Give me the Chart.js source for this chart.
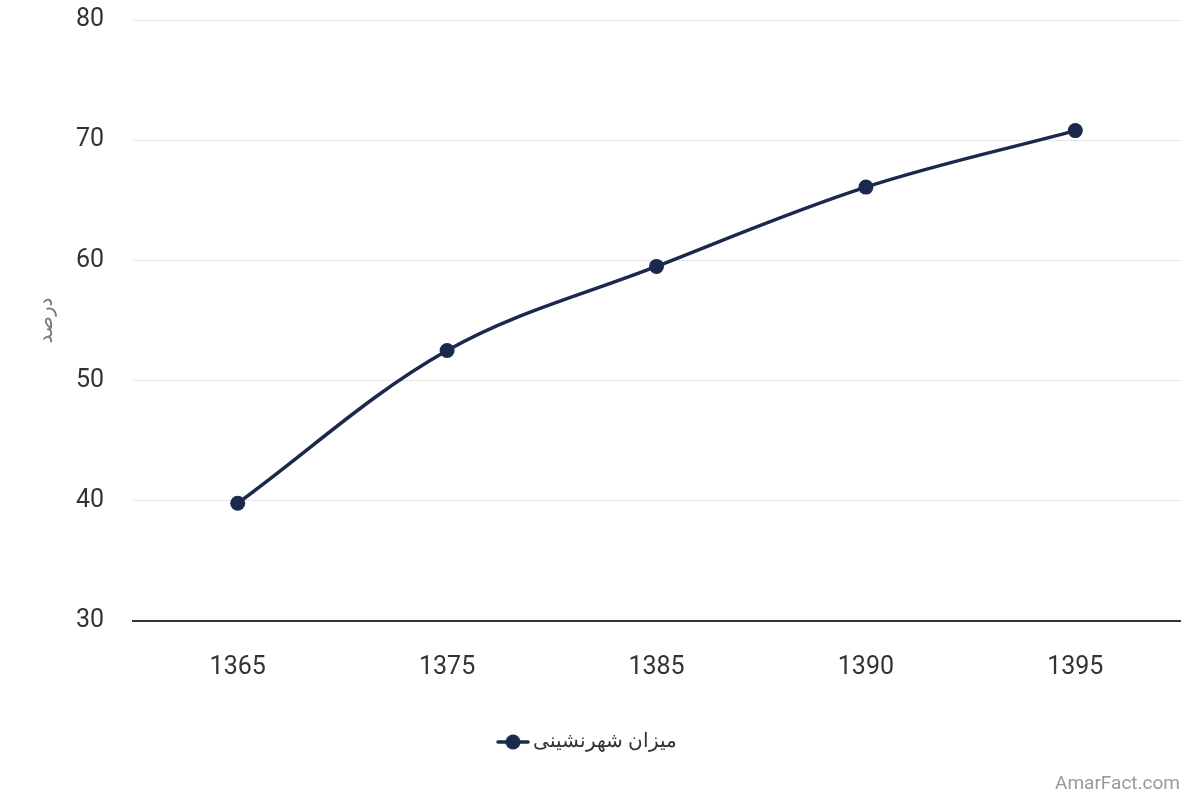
<!DOCTYPE html>
<html>
<head>
<meta charset="utf-8">
<script src="https://cdn.jsdelivr.net/npm/chart.js@4.4.1/dist/chart.umd.min.js"></script>
<style>
  html, body { margin: 0; padding: 0; background: #ffffff; }
  #wrap { position: relative; width: 1200px; height: 800px; }
  #credit { position: absolute; right: 20px; bottom: 6px; font-family: Roboto, sans-serif; font-size: 19px; color: #999999; }
</style>
</head>
<body>
<div id="wrap">
  <canvas id="c" width="1200" height="800"></canvas>
  <div id="credit">AmarFact.com</div>
</div>
<script>
const years = ['1365', '1375', '1385', '1390', '1395'];
const urbanRate = [39.8, 52.5, 59.5, 66.1, 70.8];
const seriesName = 'میزان شهرنشینی';
const yTitle = 'درصد';
const yMin = 30, yMax = 80, yStep = 10;

const navy = '#1b2a4c';

// legend symbol: line with a circle
function legendSymbol() {
  const cv = document.createElement('canvas');
  cv.width = 34; cv.height = 18;
  const g = cv.getContext('2d');
  g.strokeStyle = navy; g.lineWidth = 3.5; g.lineCap = 'round';
  g.beginPath(); g.moveTo(2, 9); g.lineTo(32, 9); g.stroke();
  g.fillStyle = navy;
  g.beginPath(); g.arc(17, 9, 7.5, 0, Math.PI * 2); g.fill();
  return cv;
}
const sym = legendSymbol();

new Chart(document.getElementById('c'), {
  type: 'line',
  data: {
    labels: years,
    datasets: [{
      label: seriesName,
      data: urbanRate,
      borderColor: navy,
      backgroundColor: navy,
      borderWidth: 3.5,
      pointRadius: 7.5,
      pointHoverRadius: 7.5,
      pointBackgroundColor: navy,
      pointBorderWidth: 0,
      tension: 0.35,
      fill: false
    }]
  },
  options: {
    responsive: false,
    animation: false,
    devicePixelRatio: 1,
    layout: { padding: { left: 0, right: 20, top: 20, bottom: 38 } },
    plugins: {
      tooltip: { enabled: false },
      legend: {
        position: 'bottom',
        labels: {
          usePointStyle: true,
          pointStyle: sym,
          padding: 10,
          color: '#333333',
          font: { family: 'Roboto, "Noto Sans", sans-serif', size: 20 },
          generateLabels: (chart) => [{
            text: seriesName,
            pointStyle: sym,
            fillStyle: navy,
            strokeStyle: navy,
            lineWidth: 0,
            datasetIndex: 0,
            fontColor: '#333333'
          }]
        }
      }
    },
    scales: {
      x: {
        offset: true,
        grid: { display: false, drawTicks: false },
        border: { display: true, color: '#333333', width: 2 },
        ticks: { color: '#333333', padding: 32, font: { family: 'Roboto, sans-serif', size: 25 } },
        afterFit: (s) => { s.height = 101; s.paddingLeft = 0; s.paddingRight = 0; }
      },
      y: {
        min: yMin, max: yMax,
        ticks: { stepSize: yStep, color: '#333333', padding: 29, font: { family: 'Roboto, sans-serif', size: 25 } },
        grid: { color: '#e6e6e6', lineWidth: 1, drawTicks: false },
        border: { display: false },
        title: {
          display: true,
          text: yTitle,
          color: '#777777',
          font: { family: '"Noto Sans", "DejaVu Sans", sans-serif', size: 20 },
          padding: { top: 34, bottom: 0 }
        },
        afterFit: (s) => { s.width = 133; s.paddingTop = 0; s.paddingBottom = 0; }
      }
    }
  }
});
</script>
</body>
</html>
